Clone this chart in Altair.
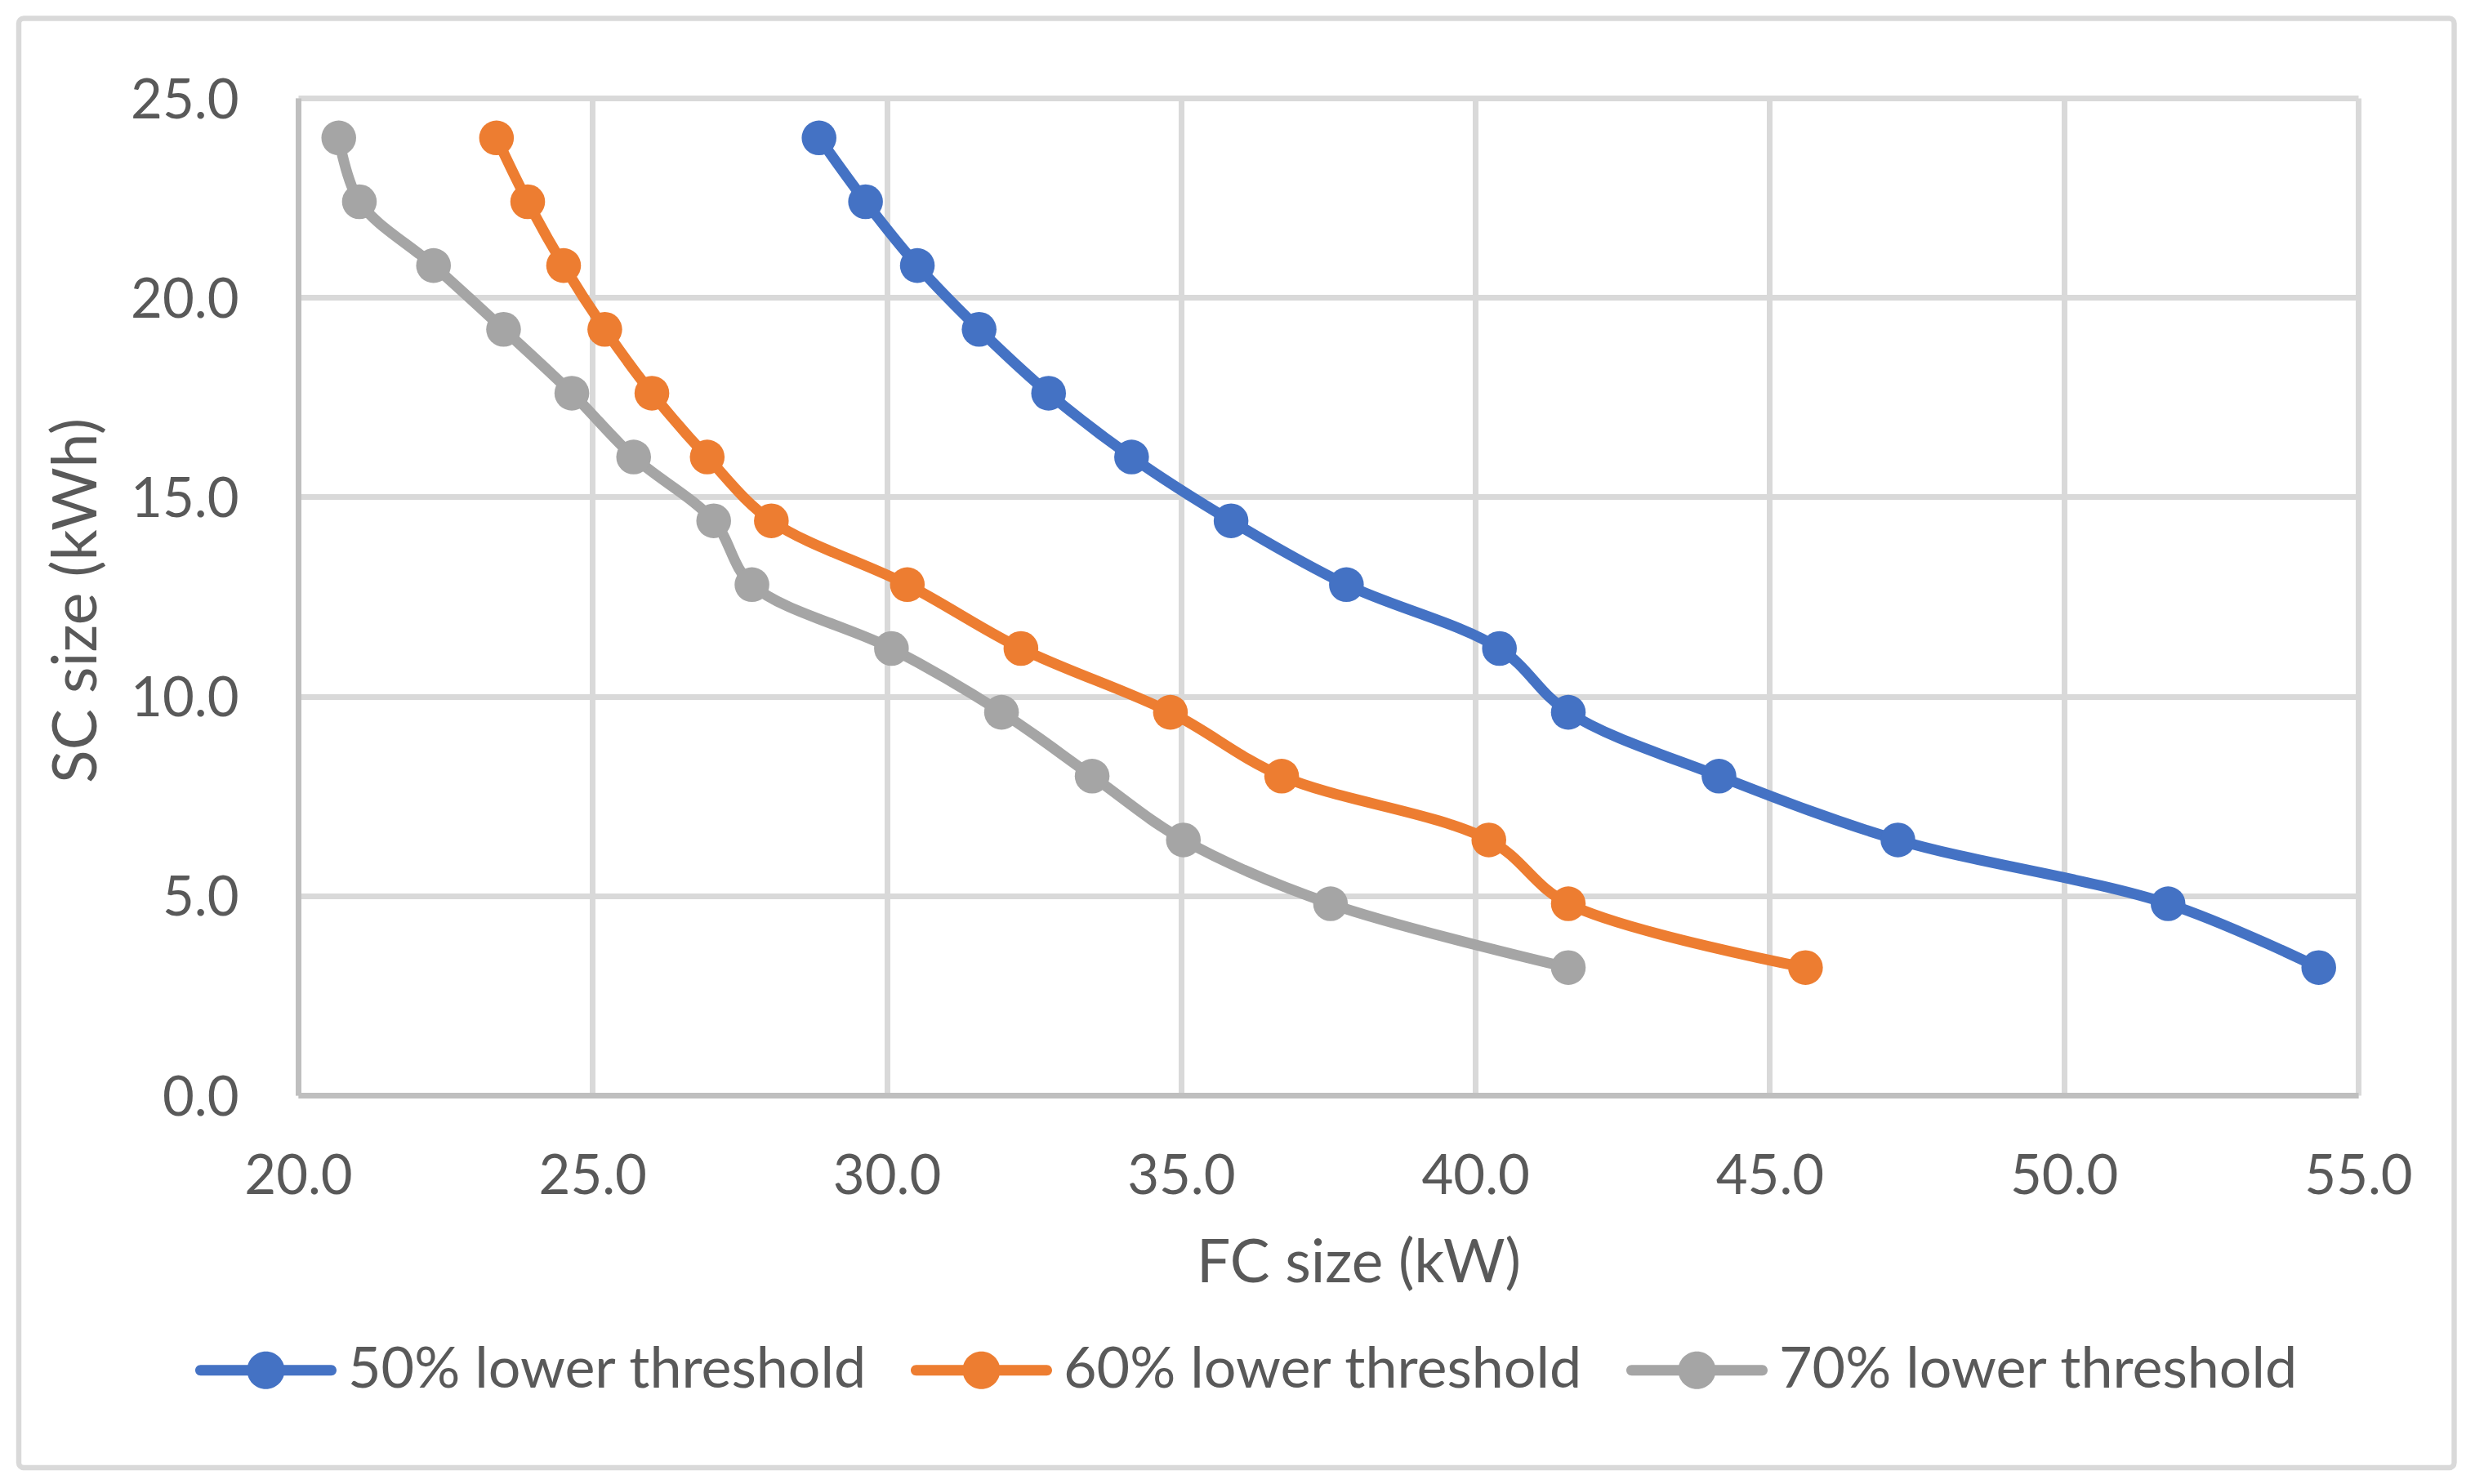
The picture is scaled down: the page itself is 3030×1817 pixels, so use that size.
import altair as alt
import pandas as pd

# ---- data ----
sc_size = [24.0, 22.4, 20.8, 19.2, 17.6, 16.0, 14.4, 12.8, 11.2, 9.6, 8.0, 6.4, 4.8, 3.2]
fc_50 = [28.85, 29.64, 30.52, 31.57, 32.75, 34.16, 35.85, 37.81, 40.41, 41.58, 44.14, 47.18, 51.77, 54.33]
fc_60 = [23.37, 23.90, 24.51, 25.21, 26.01, 26.95, 28.04, 30.35, 32.28, 34.82, 36.71, 40.23, 41.58, 45.61]
fc_70 = [20.69, 21.04, 22.30, 23.49, 24.65, 25.70, 27.06, 27.71, 30.08, 31.95, 33.49, 35.04, 37.54, 41.58]
series = ["50% lower threshold", "60% lower threshold", "70% lower threshold"]
colors = ["#4472C4", "#ED7D31", "#A5A5A5"]
x_ticks = [20, 25, 30, 35, 40, 45, 50, 55]
y_ticks = [0, 5, 10, 15, 20, 25]

rows = []
for name, fc in zip(series, [fc_50, fc_60, fc_70]):
    for i, (xv, yv) in enumerate(zip(fc, sc_size)):
        rows.append({"series": name, "fc": xv, "sc": yv, "idx": i})
df = pd.DataFrame(rows)

TEXT = "#595959"
FONT = "Lato"

x_enc = alt.X("fc:Q", scale=alt.Scale(domain=[20, 55], nice=False, zero=False),
              axis=alt.Axis(values=x_ticks, format=".1f", title="FC size (kW)",
                            grid=True, gridColor="#D9D9D9", gridWidth=7,
                            domainColor="#BFBFBF", domainWidth=7,
                            ticks=False, tickSize=0, labelPadding=120,
                            labelBaseline="alphabetic", labelFlush=False, labelOverlap=False,
                            labelFont=FONT, labelFontSize=67, labelColor=TEXT,
                            titleFont=FONT, titleFontSize=73, titleFontWeight="normal",
                            titleColor=TEXT,
                            titleX=1298, titleY=228, titleBaseline="alphabetic",
                            titleAlign="center", titleAnchor="start"))
y_enc = alt.Y("sc:Q", scale=alt.Scale(domain=[0, 25], nice=False, zero=False),
              axis=alt.Axis(values=y_ticks, format=".1f", title="SC size (kWh)",
                            grid=True, gridColor="#D9D9D9", gridWidth=7,
                            domainColor="#BFBFBF", domainWidth=7,
                            ticks=False, tickSize=0, labelPadding=73,
                            labelBaseline="alphabetic", labelOffset=24,
                            labelFlush=False, labelOverlap=False,
                            labelFont=FONT, labelFontSize=67, labelColor=TEXT,
                            titleFont=FONT, titleFontSize=75, titleFontWeight="normal",
                            titleColor=TEXT,
                            titleX=-248, titleY=615, titleAngle=270,
                            titleBaseline="alphabetic", titleAlign="center",
                            titleAnchor="start"))

color_scale = alt.Scale(domain=series, range=colors)

symbol_path = ("M-0.925,-0.075L0.925,-0.075A0.075,0.075,0,0,1,0.925,0.075"
               "L-0.925,0.075A0.075,0.075,0,0,1,-0.925,-0.075Z"
               "M0.266,0A0.266,0.266,0,1,1,-0.266,0A0.266,0.266,0,1,1,0.266,0Z")

legend = alt.Legend(title=None, orient="none", direction="horizontal",
                    legendX=-126, legendY=1471,
                    symbolType=symbol_path, symbolSize=29929,
                    symbolStrokeWidth=0, symbolOpacity=1,
                    labelFont=FONT, labelFontSize=70, labelColor=TEXT,
                    labelOffset=14, labelLimit=2000,
                    labelBaseline="middle",
                    columnPadding=52, padding=0)

color_enc = alt.Color("series:N", scale=color_scale, legend=legend)

lines = alt.Chart(df).mark_line(strokeWidth=13, interpolate="catmull-rom",
                                strokeCap="round", strokeJoin="round").encode(
    x=x_enc, y=y_enc, color=color_enc, order="idx:Q",
)

points = alt.Chart(df).mark_point(filled=True, opacity=1, size=1810, shape="circle",
                                  strokeWidth=0).encode(
    x=x_enc, y=y_enc, color=color_enc,
)

border = alt.Chart(pd.DataFrame({"a": [0]})).mark_rect(
    fill="transparent", stroke="#D9D9D9", strokeWidth=6.4, cornerRadius=6
).encode(
    x=alt.value(-342), x2=alt.value(2639.5),
    y=alt.value(-97.5), y2=alt.value(1677),
)

chart = alt.layer(border, lines, points).properties(
    width=2522, height=1221,
    autosize=alt.AutoSizeParams(type="none"),
    padding={"left": 357, "top": 112, "right": 135, "bottom": 468},
    background="white",
).configure(font=FONT).configure_view(strokeWidth=0)

chart.save("out.html", embed_options={"renderer": "svg", "actions": False})
